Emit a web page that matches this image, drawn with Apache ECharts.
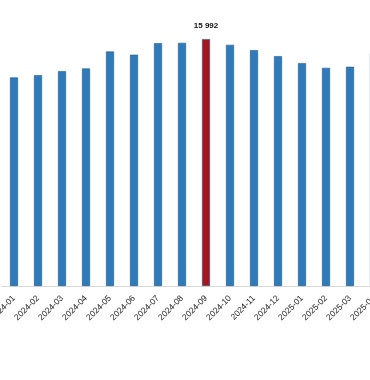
<!DOCTYPE html>
<html>
<head>
<meta charset="utf-8">
<script src="https://cdn.jsdelivr.net/npm/echarts@6/dist/echarts.min.js"></script>
<style>
html,body{margin:0;padding:0;overflow:hidden;background:#fff;}
#c{width:400px;height:380px;}
</style>
</head>
<body>
<div id="c"></div>
<script>
var categories = ["2024-01","2024-02","2024-03","2024-04","2024-05","2024-06","2024-07","2024-08","2024-09","2024-10","2024-11","2024-12","2025-01","2025-02","2025-03","2025-04"];
var values = [13510,13660,13920,14090,15190,14980,15730,15750,15992,15620,15280,14890,14440,14130,14200,15080];
var peakCategory = "2024-09";
var partialCategory = "2025-04";

var chart = echarts.init(document.getElementById('c'));
chart.setOption({
  animation: false,
  grid: {left: 2, right: 14, top: 39, bottom: 94, containLabel: false, outerBoundsMode: 'none'},
  xAxis: {
    type: 'category',
    data: categories,
    axisLine: {show: true, lineStyle: {color: '#d9d9d9', width: 1}},
    axisTick: {show: false},
    axisLabel: {rotate: 45, fontSize: 8.5, fontFamily: 'Liberation Sans', color: '#1a1a1a', margin: 11, interval: 0}
  },
  yAxis: {
    type: 'value', min: 0, max: 16000,
    show: false,
    splitLine: {show: false}
  },
  series: [{
    type: 'bar',
    data: values,
    barWidth: 8,
    itemStyle: {
      color: function(p){
        if (categories[p.dataIndex] === peakCategory) return '#a8141c';
        if (categories[p.dataIndex] === partialCategory) return '#a9cbe8';
        return '#2f7ab9';
      },
      borderColor: '#1f5a8c',
      borderWidth: 0.6
    },
    label: {
      show: true,
      position: 'top',
      distance: 9,
      fontSize: 8,
      fontWeight: 'bold',
      fontFamily: 'Liberation Sans',
      color: '#111',
      formatter: function(p){
        if (categories[p.dataIndex] !== peakCategory) return '';
        return String(p.value).replace(/\B(?=(\d{3})+(?!\d))/g, ' ');
      }
    }
  }]
});
</script>
</body>
</html>
